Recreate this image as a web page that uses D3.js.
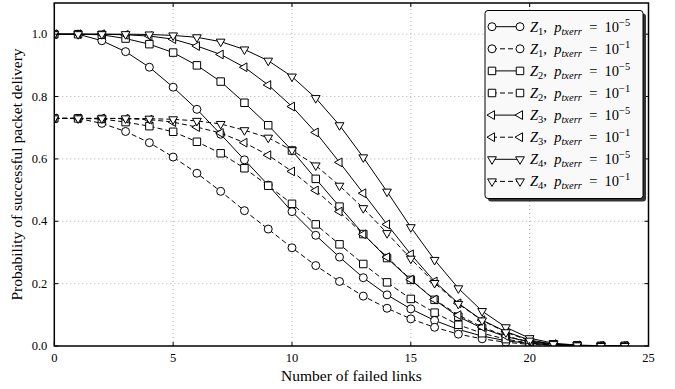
<!DOCTYPE html>
<html>
<head>
<meta charset="utf-8">
<script src="https://cdn.jsdelivr.net/npm/d3@7"></script>
<style>
  body { margin: 0; background: #fff; }
  text { font-family: "Liberation Serif", "DejaVu Serif", serif; fill: #000; }
</style>
</head>
<body>
<div id="chart"></div>
<script>
const failedLinks = d3.range(0, 25);

const z1Low  = [1.000, 1.000, 0.979, 0.944, 0.894, 0.830, 0.759, 0.679, 0.597, 0.516, 0.431, 0.355, 0.285, 0.219, 0.164, 0.119, 0.082, 0.053, 0.032, 0.017, 0.008, 0.003, 0.001, 0.000, 0.000];
const z1High = [0.730, 0.730, 0.714, 0.688, 0.652, 0.606, 0.554, 0.496, 0.434, 0.375, 0.315, 0.258, 0.207, 0.160, 0.121, 0.087, 0.060, 0.038, 0.023, 0.012, 0.005, 0.002, 0.001, 0.000, 0.000];
const z2Low  = [1.000, 1.000, 0.998, 0.986, 0.968, 0.941, 0.900, 0.848, 0.780, 0.708, 0.627, 0.536, 0.447, 0.359, 0.282, 0.212, 0.148, 0.094, 0.057, 0.030, 0.013, 0.005, 0.002, 0.000, 0.000];
const z2High = [0.730, 0.730, 0.728, 0.718, 0.705, 0.687, 0.655, 0.618, 0.570, 0.514, 0.456, 0.390, 0.326, 0.263, 0.204, 0.151, 0.107, 0.068, 0.041, 0.022, 0.009, 0.004, 0.001, 0.000, 0.000];
const z3Low  = [1.000, 1.000, 1.000, 0.998, 0.994, 0.984, 0.962, 0.935, 0.894, 0.837, 0.768, 0.685, 0.589, 0.490, 0.390, 0.294, 0.207, 0.137, 0.083, 0.046, 0.019, 0.006, 0.002, 0.000, 0.000];
const z3High = [0.730, 0.730, 0.730, 0.729, 0.726, 0.718, 0.702, 0.683, 0.652, 0.612, 0.560, 0.499, 0.431, 0.358, 0.285, 0.213, 0.149, 0.099, 0.061, 0.032, 0.013, 0.005, 0.001, 0.000, 0.000];
const z4Low  = [1.000, 1.000, 1.000, 1.000, 0.999, 0.996, 0.990, 0.976, 0.951, 0.915, 0.864, 0.795, 0.708, 0.605, 0.495, 0.381, 0.276, 0.185, 0.112, 0.060, 0.025, 0.009, 0.003, 0.001, 0.000];
const z4High = [0.730, 0.730, 0.730, 0.730, 0.729, 0.727, 0.722, 0.712, 0.692, 0.668, 0.628, 0.579, 0.514, 0.442, 0.362, 0.280, 0.202, 0.135, 0.082, 0.044, 0.017, 0.006, 0.002, 0.000, 0.000];

const xTicks = [0, 5, 10, 15, 20, 25];
const yTicks = [0.0, 0.2, 0.4, 0.6, 0.8, 1.0];

// one entry per legend row: topology index, error exponent, marker, dashed?
const series = [
    { values: z1Low,  z: "1", exp: "\u22125", marker: "circle", dashed: false },
    { values: z1High, z: "1", exp: "\u22121", marker: "circle", dashed: true },
    { values: z2Low,  z: "2", exp: "\u22125", marker: "square", dashed: false },
    { values: z2High, z: "2", exp: "\u22121", marker: "square", dashed: true },
    { values: z3Low,  z: "3", exp: "\u22125", marker: "left", dashed: false },
    { values: z3High, z: "3", exp: "\u22121", marker: "left", dashed: true },
    { values: z4Low,  z: "4", exp: "\u22125", marker: "down", dashed: false },
    { values: z4High, z: "4", exp: "\u22121", marker: "down", dashed: true },
];

const width = 675;
const height = 389;
const margin = { top: 3, right: 26.5, bottom: 43, left: 54.3 };

const svg = d3.select("#chart").append("svg")
    .attr("width", width)
    .attr("height", height);

const x = d3.scaleLinear().domain([0, 25]).range([margin.left, width - margin.right]);
const y = d3.scaleLinear().domain([0, 1.1]).range([height - margin.bottom, margin.top]);

svg.append("clipPath").attr("id", "plot-clip")
    .append("rect")
    .attr("x", x(0)).attr("y", y(1.1))
    .attr("width", x(25) - x(0)).attr("height", y(0) - y(1.1));

// gridlines
const grid = svg.append("g")
    .attr("stroke", "#b0b0b0")
    .attr("stroke-width", 1)
    .attr("stroke-dasharray", "1,3");
grid.selectAll(".gx").data(xTicks.slice(1, -1)).enter().append("line")
    .attr("x1", d => x(d)).attr("x2", d => x(d))
    .attr("y1", y(0)).attr("y2", y(1.1));
grid.selectAll(".gy").data(yTicks.slice(1)).enter().append("line")
    .attr("y1", d => y(d)).attr("y2", d => y(d))
    .attr("x1", x(0)).attr("x2", x(25));

const symbolFor = {
    circle: { type: d3.symbolCircle, size: 50, rotate: 0 },
    square: { type: d3.symbolSquare, size: 56, rotate: 0 },
    left:   { type: d3.symbolTriangle, size: 33, rotate: -90 },
    down:   { type: d3.symbolTriangle, size: 33, rotate: 180 },
};

function drawMarker(g, kind, cx, cy) {
    const s = symbolFor[kind];
    g.append("path")
        .attr("d", d3.symbol().type(s.type).size(s.size)())
        .attr("transform", `translate(${cx},${cy}) rotate(${s.rotate})`)
        .attr("fill", "#fff")
        .attr("stroke", "#000")
        .attr("stroke-width", 1);
}

const plot = svg.append("g").attr("clip-path", "url(#plot-clip)");
const line = d3.line()
    .x((d, i) => x(failedLinks[i]))
    .y(d => y(d));

for (const s of series) {
    const g = plot.append("g");
    g.append("path")
        .attr("d", line(s.values))
        .attr("fill", "none")
        .attr("stroke", "#000")
        .attr("stroke-width", 1)
        .attr("stroke-dasharray", s.dashed ? "5,3" : null);
    s.values.forEach((v, i) => drawMarker(g, s.marker, x(failedLinks[i]), y(v)));
}

// axes with inward ticks on all sides
const tickLen = 4;
const axes = svg.append("g").attr("stroke", "#000");
axes.append("rect")
    .attr("x", x(0)).attr("y", y(1.1))
    .attr("width", x(25) - x(0)).attr("height", y(0) - y(1.1))
    .attr("fill", "none")
    .attr("stroke-width", 1.5);
for (const t of xTicks) {
    axes.append("line").attr("x1", x(t)).attr("x2", x(t))
        .attr("y1", y(0)).attr("y2", y(0) - tickLen);
    axes.append("line").attr("x1", x(t)).attr("x2", x(t))
        .attr("y1", y(1.1)).attr("y2", y(1.1) + tickLen);
}
for (const t of yTicks) {
    axes.append("line").attr("y1", y(t)).attr("y2", y(t))
        .attr("x1", x(0)).attr("x2", x(0) + tickLen);
    axes.append("line").attr("y1", y(t)).attr("y2", y(t))
        .attr("x1", x(25)).attr("x2", x(25) - tickLen);
}

svg.append("g").selectAll("text").data(xTicks).enter().append("text")
    .attr("x", d => x(d))
    .attr("y", y(0) + 16)
    .attr("text-anchor", "middle")
    .style("font-size", "12.5px")
    .text(d => d);

svg.append("g").selectAll("text").data(yTicks).enter().append("text")
    .attr("x", x(0) - 7)
    .attr("y", d => y(d) + 4)
    .attr("text-anchor", "end")
    .style("font-size", "12.5px")
    .text(d => d3.format(".1f")(d));

svg.append("text")
    .attr("x", (x(0) + x(25)) / 2)
    .attr("y", height - 8)
    .attr("text-anchor", "middle")
    .style("font-size", "15.5px")
    .text("Number of failed links");

svg.append("text")
    .attr("transform", `translate(22, ${(y(0) + y(1.1)) / 2}) rotate(-90)`)
    .attr("text-anchor", "middle")
    .style("font-size", "15.5px")
    .text("Probability of successful packet delivery");

// legend
const legend = svg.append("g");
const lgX = 485, lgY = 10.5, lgW = 158, lgH = 188;
legend.append("rect")
    .attr("x", lgX + 3).attr("y", lgY + 3)
    .attr("width", lgW).attr("height", lgH)
    .attr("rx", 3)
    .attr("fill", "#333");
legend.append("rect")
    .attr("x", lgX).attr("y", lgY)
    .attr("width", lgW).attr("height", lgH)
    .attr("rx", 3)
    .attr("fill", "#f9f9f9")
    .attr("stroke", "#000")
    .attr("stroke-width", 1);

series.forEach((s, k) => {
    const cy = 26.7 + 22.1 * k;
    const row = legend.append("g");
    row.append("line")
        .attr("x1", 492).attr("x2", 520)
        .attr("y1", cy).attr("y2", cy)
        .attr("stroke", "#000")
        .attr("stroke-width", 1)
        .attr("stroke-dasharray", s.dashed ? "5,3" : null);
    drawMarker(row, s.marker, 492, cy);
    drawMarker(row, s.marker, 520, cy);

    const t = row.append("text")
        .attr("x", 530)
        .attr("y", cy + 5)
        .style("font-size", "14.5px");
    t.append("tspan").style("font-style", "italic").text("Z");
    t.append("tspan").attr("dy", 3).style("font-size", "10.5px").text(s.z);
    t.append("tspan").attr("dy", -3).text(",\u2002");
    t.append("tspan").style("font-style", "italic").text("p");
    t.append("tspan").attr("dy", 3).style("font-size", "10.5px").style("font-style", "italic").text("txerr");
    t.append("tspan").attr("dy", -3).text("\u2002=\u200210");
    t.append("tspan").attr("dy", -6).style("font-size", "10.5px").text(s.exp);
});
</script>
</body>
</html>
